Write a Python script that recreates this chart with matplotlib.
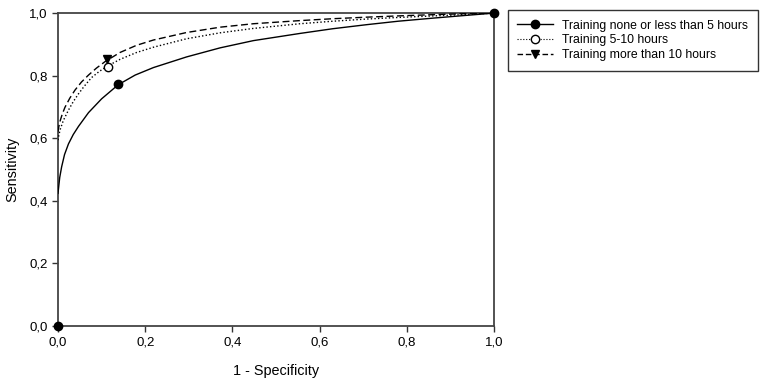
import matplotlib
matplotlib.use("Agg")
import matplotlib.pyplot as plt
from matplotlib.ticker import FuncFormatter

# fitted curves
x_none = [0.0, 0.002, 0.004, 0.0084, 0.015, 0.024, 0.035, 0.047, 0.07, 0.1, 0.138, 0.177, 0.219,
          0.295, 0.372, 0.448, 0.555, 0.63, 0.708, 0.78, 0.861, 0.93, 1.0]
y_none = [0.424, 0.45, 0.475, 0.509, 0.548, 0.582, 0.612, 0.638, 0.682, 0.726, 0.771, 0.802, 0.826,
          0.860, 0.889, 0.912, 0.935, 0.950, 0.963, 0.974, 0.984, 0.992, 1.0]
x_mid = [0.0, 0.002, 0.005, 0.012, 0.024, 0.035, 0.047, 0.06, 0.077, 0.095, 0.114, 0.142, 0.18, 0.219,
         0.295, 0.372, 0.448, 0.555, 0.63, 0.708, 0.78, 0.861, 0.93, 1.0]
y_mid = [0.594, 0.61, 0.628, 0.656, 0.69, 0.717, 0.742, 0.766, 0.794, 0.814, 0.831, 0.852, 0.874, 0.891,
         0.918, 0.937, 0.951, 0.966, 0.974, 0.981, 0.986, 0.991, 0.995, 1.0]
x_high = [0.0, 0.002, 0.005, 0.01, 0.016, 0.027, 0.039, 0.054, 0.07, 0.088, 0.108, 0.142, 0.18, 0.219,
          0.295, 0.372, 0.448, 0.555, 0.63, 0.708, 0.78, 0.861, 0.93, 1.0]
y_high = [0.621, 0.638, 0.656, 0.678, 0.699, 0.728, 0.754, 0.78, 0.802, 0.824, 0.845, 0.874, 0.897, 0.914,
          0.938, 0.955, 0.966, 0.976, 0.982, 0.987, 0.991, 0.995, 0.998, 1.0]

# observed points
px_none = [0.0, 0.138, 1.0]
py_none = [0.0, 0.773, 1.0]
px_mid = [0.115]
py_mid = [0.829]
px_high = [0.112]
py_high = [0.852]

labels = ["Training none or less than 5 hours", "Training 5-10 hours", "Training more than 10 hours"]

plt.rcParams['font.family'] = ['Liberation Sans', 'DejaVu Sans']

fig = plt.figure(figsize=(7.6, 3.85), dpi=100)
ax = fig.add_axes([0.0763, 0.153, 0.5737, 0.813])

dot = (0, (1, 1.6))
dash = (0, (5, 2.5))
ax.plot(x_none, y_none, color='black', lw=1.0, ls='-', zorder=3)
ax.plot(x_mid, y_mid, color='black', lw=1.0, ls=dot, zorder=3)
ax.plot(x_high, y_high, color='black', lw=1.0, ls=dash, zorder=3)

ax.plot(px_none, py_none, ls='none', marker='o', ms=6, color='black', clip_on=False, zorder=5)
ax.plot(px_mid, py_mid, ls='none', marker='o', ms=6, mfc='white', mec='black', clip_on=False, zorder=5)
ax.plot(px_high, py_high, ls='none', marker='v', ms=6, color='black', clip_on=False, zorder=5)

# legend handles
h1, = ax.plot([], [], color='black', lw=1.0, ls='-', marker='o', ms=6)
h2, = ax.plot([], [], color='black', lw=0.8, ls=dot, marker='o', ms=6, mfc='white')
h3, = ax.plot([], [], color='black', lw=1.0, ls=(0, (4, 2)), marker='v', ms=6)
leg = fig.legend([h1, h2, h3], labels, loc='upper left', bbox_to_anchor=(0.668, 0.974),
                 fontsize=8.8, frameon=True, fancybox=False, handlelength=2.95, handleheight=0.85,
                 labelspacing=0.22, borderpad=0.78, handletextpad=0.75, borderaxespad=0)
leg.get_frame().set_edgecolor('black')
leg.get_frame().set_linewidth(1.0)

ax.set_xlim(0, 1)
ax.set_ylim(0, 1)
ticks = [0, 0.2, 0.4, 0.6, 0.8, 1.0]
ax.set_xticks(ticks)
ax.set_yticks(ticks)
fmt = FuncFormatter(lambda v, p: f"{v:.1f}".replace('.', ','))
ax.xaxis.set_major_formatter(fmt)
ax.yaxis.set_major_formatter(fmt)
ax.tick_params(direction='out', length=4, width=1, labelsize=9.5, color='#333333')

for s in ax.spines.values():
    s.set_color('#444444')
    s.set_linewidth(1.3)

ax.set_xlabel('1 - Specificity', fontsize=10.4, labelpad=11)
ax.set_ylabel('Sensitivity', fontsize=10.4, labelpad=7)

fig.savefig('out.png', dpi=100)
